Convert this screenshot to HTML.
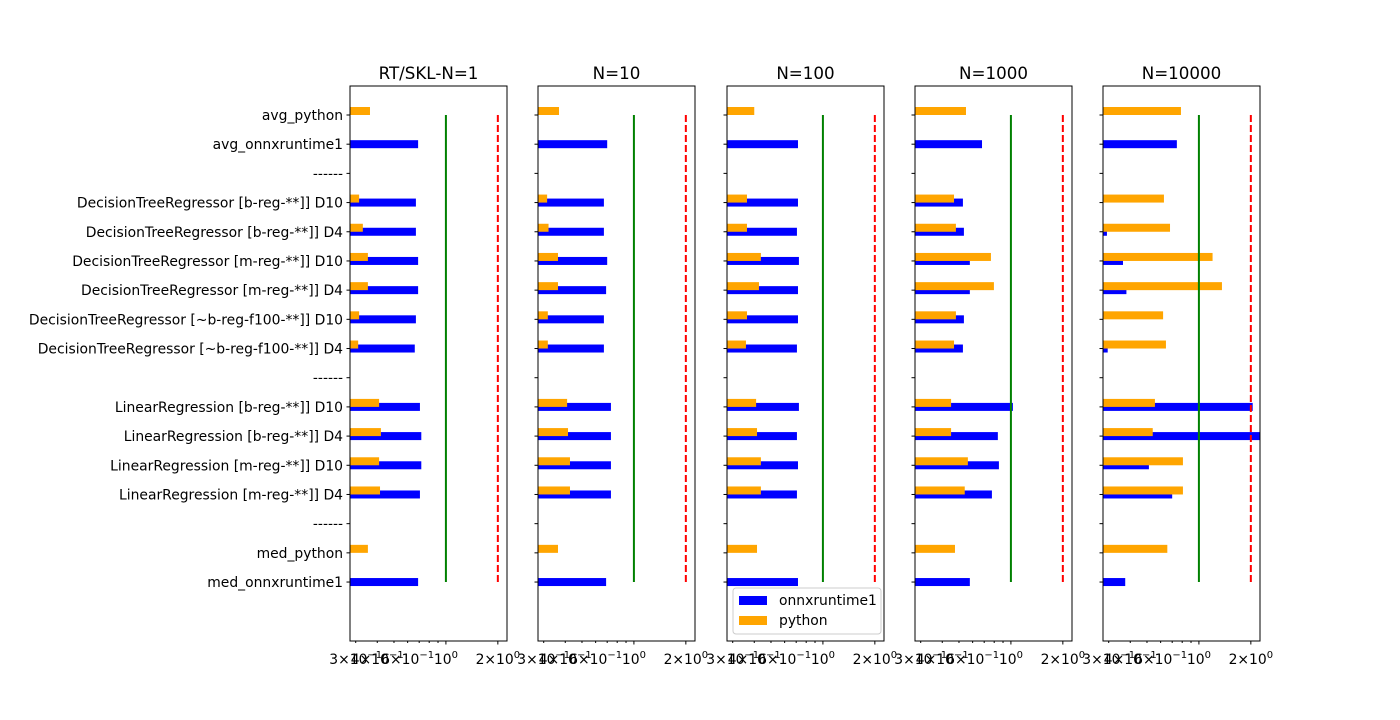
<!DOCTYPE html>
<html><head><meta charset="utf-8"><style>
body{margin:0;background:#fff;}
svg{display:block;font-family:"DejaVu Sans","Liberation Sans",sans-serif;}
</style></head><body>
<svg id="chart" width="1400" height="720" viewBox="0 0 1400 720" xmlns="http://www.w3.org/2000/svg"></svg>
<script>
const categories = ["avg_python","avg_onnxruntime1","------",
"DecisionTreeRegressor [b-reg-**]] D10","DecisionTreeRegressor [b-reg-**]] D4",
"DecisionTreeRegressor [m-reg-**]] D10","DecisionTreeRegressor [m-reg-**]] D4",
"DecisionTreeRegressor [~b-reg-f100-**]] D10","DecisionTreeRegressor [~b-reg-f100-**]] D4",
"------","LinearRegression [b-reg-**]] D10","LinearRegression [b-reg-**]] D4",
"LinearRegression [m-reg-**]] D10","LinearRegression [m-reg-**]] D4","------",
"med_python","med_onnxruntime1"];
const panelTitles = ["RT/SKL-N=1","N=10","N=100","N=1000","N=10000"];
const onnxP1 = [null,0.69,null,0.67,0.67,0.69,0.69,0.67,0.66,null,0.707,0.72,0.72,0.707,null,null,0.69];
const pyP1   = [0.363,null,null,0.314,0.33,0.353,0.353,0.314,0.31,null,0.41,0.42,0.41,0.415,null,0.353,null];
const onnxP2 = [null,0.70,null,0.67,0.67,0.70,0.69,0.67,0.67,null,0.736,0.736,0.736,0.736,null,null,0.69];
const pyP2   = [0.368,null,null,0.314,0.32,0.363,0.363,0.317,0.317,null,0.41,0.415,0.426,0.426,null,0.363,null];
const onnxP3 = [null,0.717,null,0.717,0.707,0.726,0.717,0.717,0.707,null,0.726,0.707,0.717,0.707,null,null,0.717];
const pyP3   = [0.40,null,null,0.363,0.363,0.437,0.426,0.363,0.358,null,0.41,0.415,0.437,0.437,null,0.415,null];
const onnxP4 = [null,0.68,null,0.527,0.534,0.578,0.578,0.534,0.527,null,1.027,0.84,0.852,0.776,null,null,0.578];
const pyP4   = [0.549,null,null,0.468,0.48,0.766,0.797,0.48,0.468,null,0.45,0.45,0.563,0.54,null,0.474,null];
const onnxP5 = [null,0.745,null,0.2,0.293,0.363,0.38,0.2,0.296,null,2.05,2.5,0.513,0.70,null,null,0.374];
const pyP5   = [0.787,null,null,0.627,0.68,1.2,1.36,0.62,0.644,null,0.556,0.54,0.808,0.808,null,0.656,null];
const onnxAll=[onnxP1,onnxP2,onnxP3,onnxP4,onnxP5];
const pyAll=[pyP1,pyP2,pyP3,pyP4,pyP5];
const xTickVals=[0.3,0.4,0.6,1,2];
const xTickMant=["3","4","6","","2"];
const xTickExp=["\u22121","\u22121","\u22121","0","0"];
const minorVals=[0.3,0.4,0.5,0.6,0.7,0.8,0.9];

const NS="http://www.w3.org/2000/svg";
const svg=document.getElementById('chart');
function mk(tag,attrs,parent){const e=document.createElementNS(NS,tag);for(const k in attrs)e.setAttribute(k,attrs[k]);(parent||svg).appendChild(e);return e;}
const panelLefts=[350,538,727,915,1103];
const W=157, axTop=86, axBottom=641;
const xmin=0.278, xmax=2.26;
function xs(left,v){return left+(Math.log10(v)-Math.log10(xmin))/(Math.log10(xmax)-Math.log10(xmin))*W;}
function ys(i){return 115+i*29.19;}

panelLefts.forEach((L,p)=>{
  const g=mk('g',{});
  
  
  const clip=mk('clipPath',{id:'c'+p},g);
  mk('rect',{x:L,y:axTop,width:W,height:axBottom-axTop},clip);
  const bars=mk('g',{'clip-path':'url(#c'+p+')'},g);
  categories.forEach((c,i)=>{
    const y=ys(i);
    const ov=onnxAll[p][i];
    if(ov!=null){
      const r=mk('rect',{x:L,y:y-4,width:Math.max(0,xs(L,ov)-L),height:8,fill:'#0000ff'},bars);
      
      
    }
  });
  categories.forEach((c,i)=>{
    const y=ys(i);
    const pv=pyAll[p][i];
    if(pv!=null){
      const r=mk('rect',{x:L,y:y-8,width:Math.max(0,xs(L,pv)-L),height:8,fill:'#ffa500'},bars);
      
      
    }
  });
  const gl=mk('line',{x1:xs(L,1),x2:xs(L,1),y1:ys(0),y2:ys(16),stroke:'green','stroke-width':2},bars);
  
  
  const rl=mk('line',{x1:xs(L,2),x2:xs(L,2),y1:ys(0),y2:ys(16),stroke:'red','stroke-width':2,'stroke-dasharray':'7,3'},bars);
  
  
  const fr=mk('rect',{x:L,y:axTop,width:W,height:axBottom-axTop,fill:'none',stroke:'#000','stroke-width':1},g);
  
  
  const t=mk('text',{x:L+W/2,y:79,'text-anchor':'middle','font-size':16.7,fill:'#000'},g);
  t.textContent=panelTitles[p];
  
  
  categories.forEach((c,i)=>{
    mk('line',{x1:L-3.5,x2:L,y1:ys(i),y2:ys(i),stroke:'#000'},g);
    if(p===0){
      const lt=mk('text',{x:L-7,y:ys(i)+5,'text-anchor':'end','font-size':13.9,fill:'#000'},g);
      lt.textContent=c;
      
      
    }
  });
  minorVals.forEach(v=>mk('line',{x1:xs(L,v),x2:xs(L,v),y1:axBottom,y2:axBottom+2,stroke:'#000'},g));
  [1,2].forEach(v=>mk('line',{x1:xs(L,v),x2:xs(L,v),y1:axBottom,y2:axBottom+3.5,stroke:'#000'},g));
  xTickVals.forEach((v,k)=>{
    const tx=mk('text',{x:xs(L,v),y:axBottom+23,'text-anchor':'middle','font-size':13.9,fill:'#000'},g);
    
    
    const base=(xTickMant[k]?xTickMant[k]+"\u00d7":"")+"10";
    const a=document.createElementNS(NS,'tspan');a.textContent=base;tx.appendChild(a);
    const b=document.createElementNS(NS,'tspan');b.setAttribute('dy','-6');b.setAttribute('font-size','10');b.textContent=xTickExp[k];tx.appendChild(b);
  });
});
const lg=mk('g',{});


mk('rect',{x:733,y:588,width:148,height:46,rx:3,fill:'#fff','fill-opacity':0.8,stroke:'#ccc'},lg);
mk('rect',{x:739,y:596,width:28,height:9,fill:'#0000ff'},lg);
mk('rect',{x:739,y:616,width:28,height:9,fill:'#ffa500'},lg);
const l1=mk('text',{x:779,y:605,'font-size':13.9,fill:'#000'},lg);l1.textContent='onnxruntime1';


const l2=mk('text',{x:779,y:625,'font-size':13.9,fill:'#000'},lg);l2.textContent='python';


</script>
</body></html>
